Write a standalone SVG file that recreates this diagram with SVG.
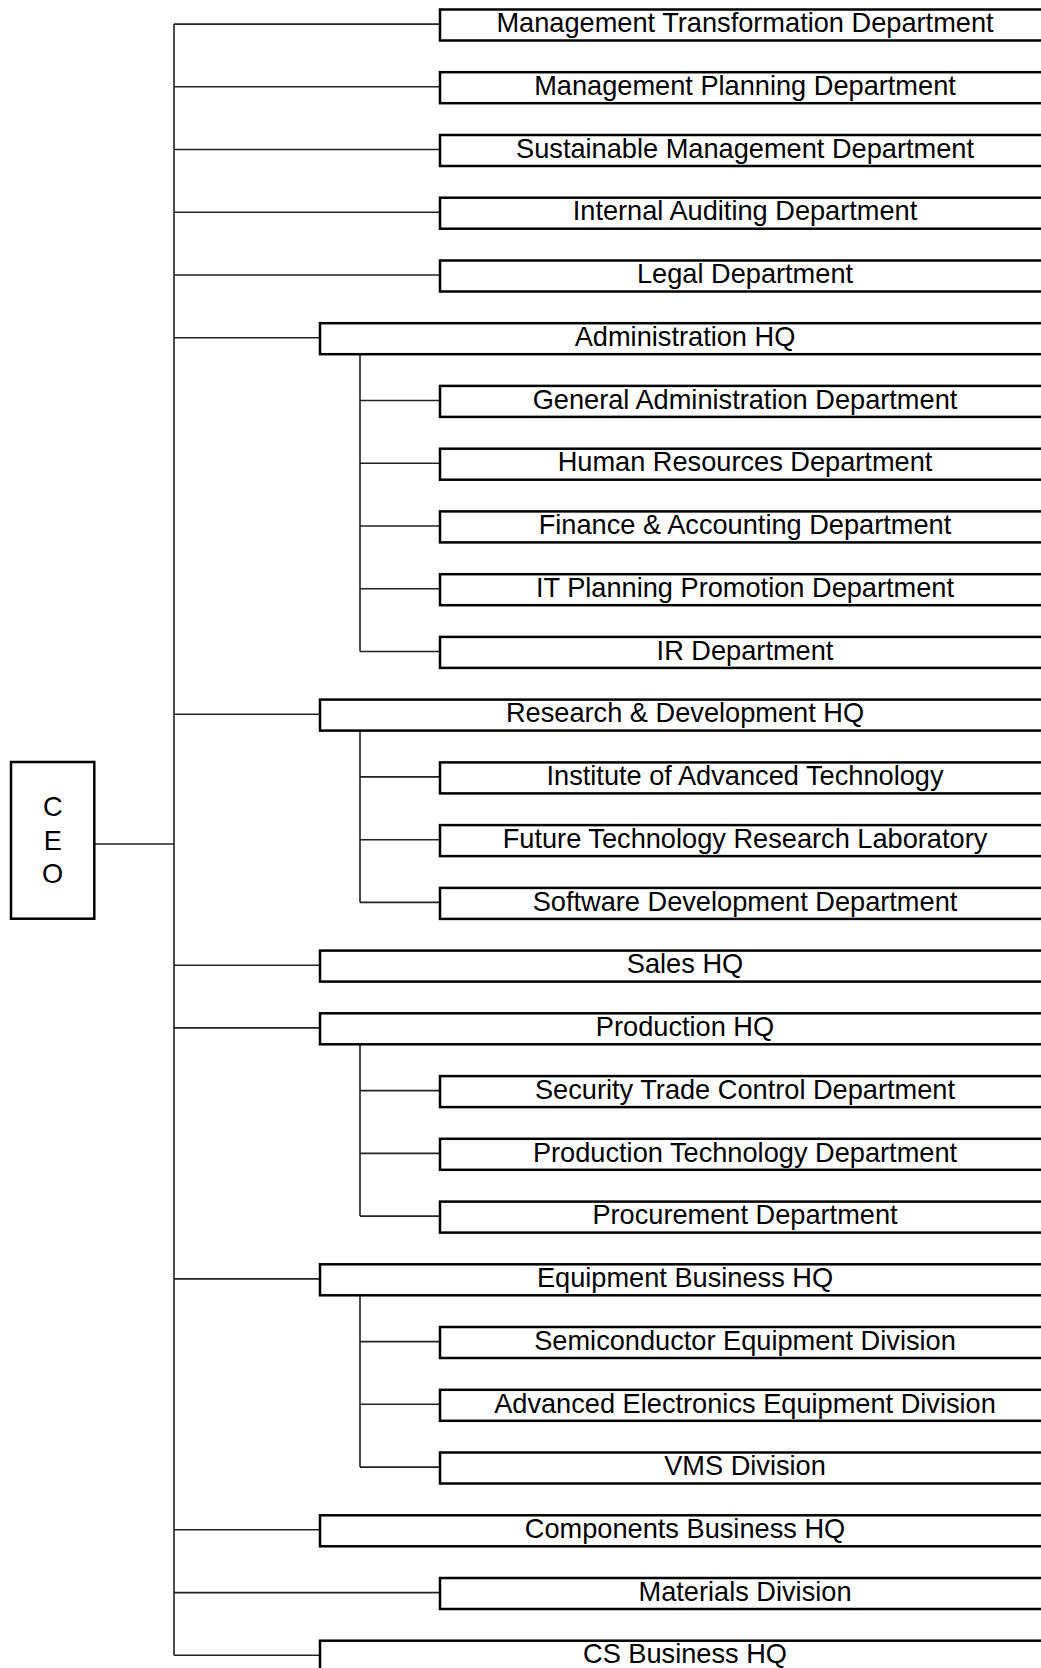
<svg xmlns="http://www.w3.org/2000/svg" width="1041" height="1668" viewBox="0 0 1041 1668">
<style>
.box{fill:#fff;stroke:#000;stroke-width:2.5}
.sub{fill:#fff;stroke:#000;stroke-width:2.5}
.lbl{font-family:"Liberation Sans",Arial,sans-serif;font-size:27.2px;fill:#000;text-anchor:middle}
.con{stroke:#222;stroke-width:1.6;fill:none}
</style>
<rect width="1041" height="1668" fill="#fff"/>
<g id="connectors">
<path class="con" d="M94.3 844H174M174 24V1655.3"/>
<path class="con" d="M174 24.1H440M174 86.8H440M174 149.5H440M174 212.3H440M174 275H440M174 1592.6H440"/>
<path class="con" d="M174 337.8H320M174 714.2H320M174 965.2H320M174 1027.9H320M174 1278.9H320M174 1529.8H320M174 1655.3H320"/>
<path class="con" d="M360 354.2V651.5M360 400.5H440M360 463.2H440M360 526H440M360 588.7H440M360 651.5H440"/>
<path class="con" d="M360 730.6V902.4M360 776.9H440M360 839.7H440M360 902.4H440"/>
<path class="con" d="M360 1044.3V1216.1M360 1090.6H440M360 1153.4H440M360 1216.1H440"/>
<path class="con" d="M360 1295.3V1467.1M360 1341.6H440M360 1404.3H440M360 1467.1H440"/>
</g>
<g id="ceo"><rect class="box" x="11" y="762" width="83.3" height="156.7"/><text class="lbl" x="52.7" y="816">C</text><text class="lbl" x="52.7" y="849.5">E</text><text class="lbl" x="52.7" y="883">O</text></g>
<g id="n0"><rect class="sub" x="440" y="9.5" width="610" height="31"/><text class="lbl" x="745" y="32.2">Management Transformation Department</text></g>
<g id="n1"><rect class="sub" x="440" y="72.2" width="610" height="31"/><text class="lbl" x="745" y="94.9">Management Planning Department</text></g>
<g id="n2"><rect class="sub" x="440" y="135" width="610" height="31"/><text class="lbl" x="745" y="157.7">Sustainable Management Department</text></g>
<g id="n3"><rect class="sub" x="440" y="197.7" width="610" height="31"/><text class="lbl" x="745" y="220.4">Internal Auditing Department</text></g>
<g id="n4"><rect class="sub" x="440" y="260.5" width="610" height="31"/><text class="lbl" x="745" y="283.2">Legal Department</text></g>
<g id="n5"><rect class="box" x="320" y="323.2" width="730" height="31"/><text class="lbl" x="685" y="345.9">Administration HQ</text></g>
<g id="n6"><rect class="sub" x="440" y="385.9" width="610" height="31"/><text class="lbl" x="745" y="408.6">General Administration Department</text></g>
<g id="n7"><rect class="sub" x="440" y="448.7" width="610" height="31"/><text class="lbl" x="745" y="471.4">Human Resources Department</text></g>
<g id="n8"><rect class="sub" x="440" y="511.4" width="610" height="31"/><text class="lbl" x="745" y="534.1">Finance &amp; Accounting Department</text></g>
<g id="n9"><rect class="sub" x="440" y="574.2" width="610" height="31"/><text class="lbl" x="745" y="596.9">IT Planning Promotion Department</text></g>
<g id="n10"><rect class="sub" x="440" y="636.9" width="610" height="31"/><text class="lbl" x="745" y="659.6">IR Department</text></g>
<g id="n11"><rect class="box" x="320" y="699.6" width="730" height="31"/><text class="lbl" x="685" y="722.3">Research &amp; Development HQ</text></g>
<g id="n12"><rect class="sub" x="440" y="762.4" width="610" height="31"/><text class="lbl" x="745" y="785.1">Institute of Advanced Technology</text></g>
<g id="n13"><rect class="sub" x="440" y="825.1" width="610" height="31"/><text class="lbl" x="745" y="847.8">Future Technology Research Laboratory</text></g>
<g id="n14"><rect class="sub" x="440" y="887.9" width="610" height="31"/><text class="lbl" x="745" y="910.6">Software Development Department</text></g>
<g id="n15"><rect class="box" x="320" y="950.6" width="730" height="31"/><text class="lbl" x="685" y="973.3">Sales HQ</text></g>
<g id="n16"><rect class="box" x="320" y="1013.3" width="730" height="31"/><text class="lbl" x="685" y="1036">Production HQ</text></g>
<g id="n17"><rect class="sub" x="440" y="1076.1" width="610" height="31"/><text class="lbl" x="745" y="1098.8">Security Trade Control Department</text></g>
<g id="n18"><rect class="sub" x="440" y="1138.8" width="610" height="31"/><text class="lbl" x="745" y="1161.5">Production Technology Department</text></g>
<g id="n19"><rect class="sub" x="440" y="1201.6" width="610" height="31"/><text class="lbl" x="745" y="1224.3">Procurement Department</text></g>
<g id="n20"><rect class="box" x="320" y="1264.3" width="730" height="31"/><text class="lbl" x="685" y="1287">Equipment Business HQ</text></g>
<g id="n21"><rect class="sub" x="440" y="1327" width="610" height="31"/><text class="lbl" x="745" y="1349.7">Semiconductor Equipment Division</text></g>
<g id="n22"><rect class="sub" x="440" y="1389.8" width="610" height="31"/><text class="lbl" x="745" y="1412.5">Advanced Electronics Equipment Division</text></g>
<g id="n23"><rect class="sub" x="440" y="1452.5" width="610" height="31"/><text class="lbl" x="745" y="1475.2">VMS Division</text></g>
<g id="n24"><rect class="box" x="320" y="1515.3" width="730" height="31"/><text class="lbl" x="685" y="1538">Components Business HQ</text></g>
<g id="n25"><rect class="sub" x="440" y="1578" width="610" height="31"/><text class="lbl" x="745" y="1600.7">Materials Division</text></g>
<g id="n26"><rect class="box" x="320" y="1640.7" width="730" height="31"/><text class="lbl" x="685" y="1663.4">CS Business HQ</text></g>
</svg>
